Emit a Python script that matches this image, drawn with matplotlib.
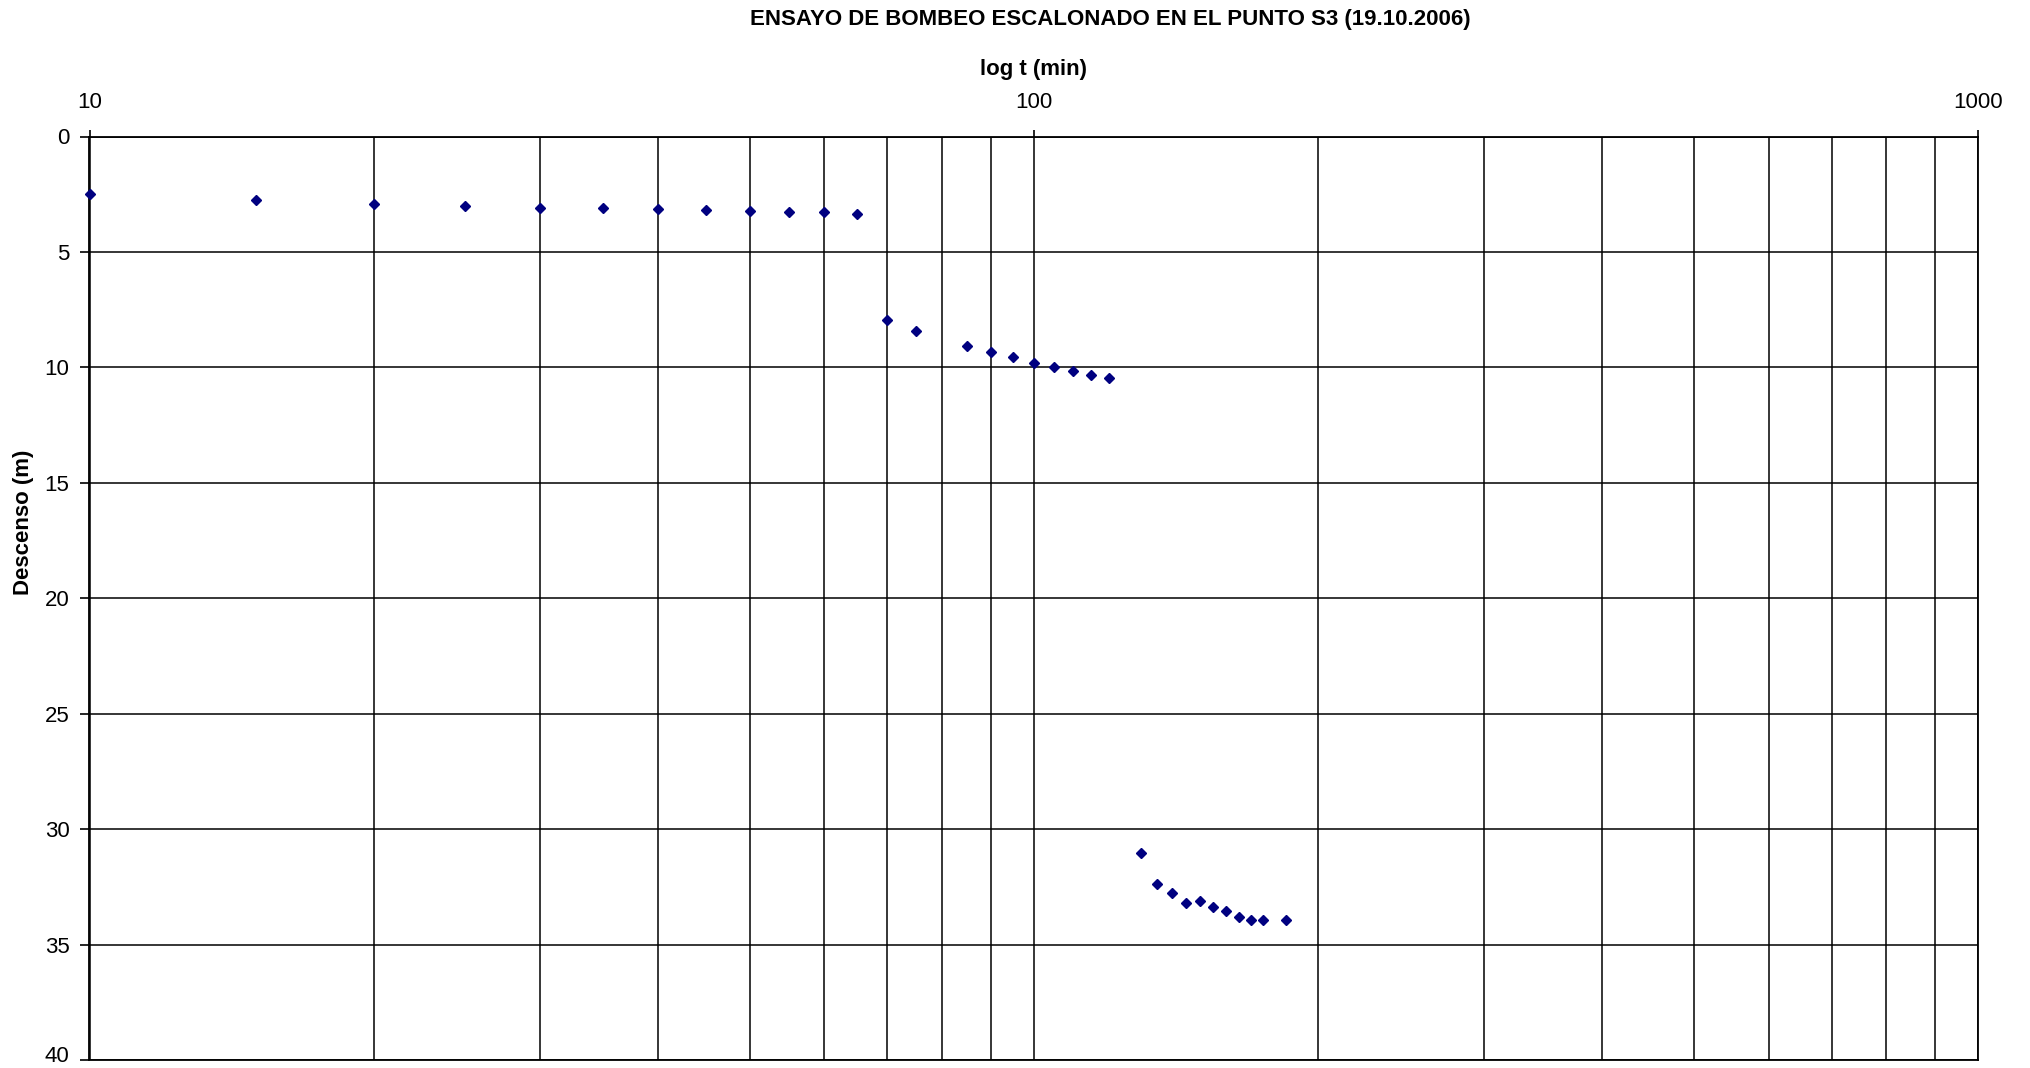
import matplotlib
matplotlib.use("Agg")
import matplotlib.pyplot as plt
from matplotlib.ticker import LogLocator, FixedLocator, NullFormatter, FixedFormatter
from matplotlib.transforms import ScaledTranslation

plt.rcParams['font.family'] = ['Liberation Sans', 'DejaVu Sans']

# Data: time (min) and drawdown (m)
t_step1 = [10, 15, 20, 25, 30, 35, 40, 45, 50, 55, 60, 65]
s_step1 = [2.51, 2.75, 2.92, 3.01, 3.08, 3.09, 3.16, 3.17, 3.24, 3.25, 3.25, 3.34]
t_step2 = [70, 75, 85, 90, 95, 100, 105, 110, 115, 120]
s_step2 = [7.93, 8.42, 9.08, 9.33, 9.57, 9.82, 10.0, 10.15, 10.33, 10.47]
t_step3 = [130, 135, 140, 145, 150, 155, 160, 165, 170, 175, 185]
s_step3 = [31.05, 32.36, 32.78, 33.2, 33.11, 33.37, 33.53, 33.8, 33.94, 33.94, 33.94]

title = "ENSAYO DE BOMBEO ESCALONADO EN EL PUNTO S3 (19.10.2006)"
xlabel = "log t (min)"
ylabel = "Descenso (m)"
x_ticks = [10, 100, 1000]
x_ticklabels = ["10", "100", "1000"]
y_ticks = [0, 5, 10, 15, 20, 25, 30, 35, 40]

W, H = 2031, 1068
fig = plt.figure(figsize=(W / 100, H / 100), dpi=100)
left, right, top, bottom = 89.5, 1978, 136.5, 1060
ax = fig.add_axes([left / W, 1 - bottom / H, (right - left) / W, (bottom - top) / H])

t_all = t_step1 + t_step2 + t_step3
s_all = s_step1 + s_step2 + s_step3
ax.plot(t_all, s_all, linestyle='none', marker='D', markersize=5.5,
        color='#000080', markeredgecolor='#000080', zorder=5, clip_on=False)

ax.set_xscale('log')
ax.set_xlim(10, 1000)
ax.set_ylim(40, 0)

ax.xaxis.tick_top()
ax.xaxis.set_label_position('top')
ax.xaxis.set_major_locator(FixedLocator(x_ticks))
ax.xaxis.set_major_formatter(FixedFormatter(x_ticklabels))
ax.xaxis.set_minor_locator(LogLocator(base=10, subs=range(2, 10)))
ax.xaxis.set_minor_formatter(NullFormatter())
ax.tick_params(axis='x', which='major', length=5, width=1.2, pad=12, labelsize=16, colors='black')
ax.tick_params(axis='x', which='minor', length=0)

ax.set_yticks(y_ticks)
ax.tick_params(axis='y', which='major', length=6.5, width=1.2, pad=8, labelsize=16, colors='black')

ax.grid(True, which='both', axis='x', color='black', linewidth=1.1)
ax.grid(True, which='major', axis='y', color='black', linewidth=1.1)
ax.set_axisbelow(True)

for sp in ax.spines.values():
    sp.set_color('black')
    sp.set_linewidth(1.3)

ax.set_xlabel(xlabel, fontsize=16, fontweight='bold', labelpad=12)
ax.set_ylabel(ylabel, fontsize=16, fontweight='bold')
ax.yaxis.label.set_verticalalignment('center')
ax.yaxis.set_label_coords((23.3 - left) / (right - left), 1 - (522.6 - top) / (bottom - top))
fig.text(1110.7 / W, 1 - 19.5 / H, title, ha='center', va='center',
         fontsize=16, fontweight='bold')

# nudge the bottom tick label ("40") up slightly so it stays inside the image
last_lbl = ax.yaxis.get_major_ticks()[-1].label1
last_lbl.set_transform(last_lbl.get_transform() + ScaledTranslation(0, 6 / 100, fig.dpi_scale_trans))

fig.savefig('out.png', dpi=100)
